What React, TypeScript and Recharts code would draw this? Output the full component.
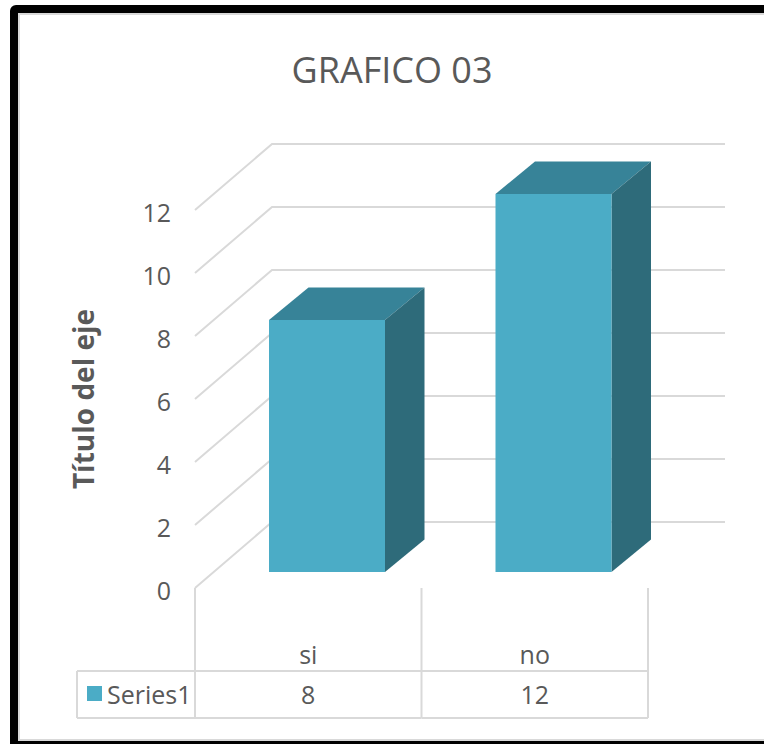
import React from 'react';
import { BarChart, Bar, XAxis, YAxis, CartesianGrid } from 'recharts';

const categories = ['si', 'no'];
const series1 = [8, 12];
const yTicks = [0, 2, 4, 6, 8, 10, 12];
const seriesName = 'Series1';

const data = categories.map((name, i) => ({ name, value: series1[i] }));

// layout of the plot (front plane of the 3D box)
const W = 764;
const H = 744;
const PLOT_LEFT = 195;
const PLOT_RIGHT = 648;
const PLOT_TOP = 210;
const PLOT_BOTTOM = 588;
const Y_AXIS_W = 60;
const X_AXIS_H = 130;

// depth vectors: whole wall, bar front offset, bar thickness
const WALL_DX = 77;
const WALL_DY = -66;
const BAR_OX = 19;
const BAR_OY = -16;
const BAR_DX = 39.5;
const BAR_DY = -32.5;

const FRONT = '#4BACC6';
const TOP = '#378398';
const SIDE = '#2E6B7A';
const GRID = '#d9d9d9';
const TEXT = '#595959';
const FONT = '"Open Sans", sans-serif';

const TABLE_LEFT = 77;
const TABLE_MID = 671;
const TABLE_BOTTOM = 718;

const Box3D = (props: any) => {
  const { x, y, width, height } = props;
  const fx = x + BAR_OX;
  const fy = y + BAR_OY;
  const top = `${fx},${fy} ${fx + BAR_DX},${fy + BAR_DY} ${fx + width + BAR_DX},${fy + BAR_DY} ${fx + width},${fy}`;
  const side = `${fx + width},${fy} ${fx + width + BAR_DX},${fy + BAR_DY} ${fx + width + BAR_DX},${fy + height + BAR_DY} ${fx + width},${fy + height}`;
  return (
    <g>
      <polygon points={top} fill={TOP} />
      <polygon points={side} fill={SIDE} />
      <rect x={fx} y={fy} width={width} height={height} fill={FRONT} />
    </g>
  );
};

// side wall diagonal + back wall line for each value tick
const WallLine = (props: any) => {
  const { x1, x2, y1, index } = props;
  const pts = `${x1},${y1} ${x1 + WALL_DX},${y1 + WALL_DY} ${x2 + WALL_DX},${y1 + WALL_DY}`;
  return <polyline key={`wall-${index}`} points={pts} fill="none" stroke={GRID} strokeWidth={2} />;
};

const YTick = (props: any) => {
  const { y, payload } = props;
  return (
    <text x={171} y={y + 2} textAnchor="end" dominantBaseline="central" fill={TEXT} fontSize={25} fontFamily={FONT}>
      {payload.value}
    </text>
  );
};

// category axis doubles as the data table underneath
const TableTick = (props: any) => {
  const { x, payload, index } = props;
  const bw = (PLOT_RIGHT - PLOT_LEFT) / categories.length;
  const l = x - bw / 2;
  const r = x + bw / 2;
  return (
    <g>
      {index === 0 && (
        <g>
          <line x1={l} y1={PLOT_BOTTOM} x2={l} y2={TABLE_BOTTOM} stroke={GRID} strokeWidth={2} />
          <line x1={TABLE_LEFT} y1={TABLE_MID} x2={l} y2={TABLE_MID} stroke={GRID} strokeWidth={2} />
          <line x1={TABLE_LEFT} y1={TABLE_BOTTOM} x2={l} y2={TABLE_BOTTOM} stroke={GRID} strokeWidth={2} />
          <line x1={TABLE_LEFT} y1={TABLE_MID} x2={TABLE_LEFT} y2={TABLE_BOTTOM} stroke={GRID} strokeWidth={2} />
          <rect x={87} y={686} width={15} height={15} fill={FRONT} />
          <text x={107} y={694} dominantBaseline="central" fill={TEXT} fontSize={25} fontFamily={FONT}>
            {seriesName}
          </text>
        </g>
      )}
      <line x1={r} y1={PLOT_BOTTOM} x2={r} y2={TABLE_BOTTOM} stroke={GRID} strokeWidth={2} />
      <line x1={l} y1={TABLE_MID} x2={r} y2={TABLE_MID} stroke={GRID} strokeWidth={2} />
      <line x1={l} y1={TABLE_BOTTOM} x2={r} y2={TABLE_BOTTOM} stroke={GRID} strokeWidth={2} />
      <text x={x} y={654} textAnchor="middle" dominantBaseline="central" fill={TEXT} fontSize={25} fontFamily={FONT}>
        {payload.value}
      </text>
      <text x={x} y={694} textAnchor="middle" dominantBaseline="central" fill={TEXT} fontSize={25} fontFamily={FONT}>
        {series1[index]}
      </text>
    </g>
  );
};

const AxisTitle = () => (
  <text
    x={83}
    y={399}
    transform="rotate(-90 83 399)"
    textAnchor="middle"
    dominantBaseline="central"
    fill={TEXT}
    fontSize={28}
    fontWeight="bold"
    fontFamily={FONT}
  >
    Título del eje
  </text>
);

const App = () => {
  return (
    <div style={{ position: 'absolute', left: 0, top: 0, width: W, height: H, overflow: 'hidden', background: '#fff' }}>
      <div
        style={{
          position: 'absolute',
          left: 10,
          top: 5,
          width: 800,
          height: 744,
          boxSizing: 'border-box',
          border: '8px solid #000',
          borderRadius: 6,
          boxShadow: `inset 2px 2px 0 ${GRID}, inset 0 -2px 0 ${GRID}`,
        }}
      />
      <div
        style={{
          position: 'absolute',
          left: 0,
          top: 46,
          width: 784,
          textAlign: 'center',
          fontFamily: FONT,
          fontSize: 36,
          color: TEXT,
          lineHeight: '48px',
        }}
      >
        GRAFICO 03
      </div>
      <div style={{ position: 'absolute', left: 0, top: 0 }}>
        <BarChart
          width={W}
          height={H}
          data={data}
          margin={{
            top: PLOT_TOP,
            left: PLOT_LEFT - Y_AXIS_W,
            right: W - PLOT_RIGHT,
            bottom: H - PLOT_BOTTOM - X_AXIS_H,
          }}
        >
          <CartesianGrid vertical={false} horizontal={WallLine} />
          <XAxis
            dataKey="name"
            height={X_AXIS_H}
            axisLine={false}
            tickLine={false}
            interval={0}
            tick={TableTick}
          />
          <YAxis
            width={Y_AXIS_W}
            domain={[0, 12]}
            ticks={yTicks}
            axisLine={false}
            tickLine={false}
            tick={YTick}
            label={AxisTitle}
          />
          <Bar dataKey="value" barSize={116} shape={Box3D} isAnimationActive={false} />
        </BarChart>
      </div>
    </div>
  );
};

export default App;
